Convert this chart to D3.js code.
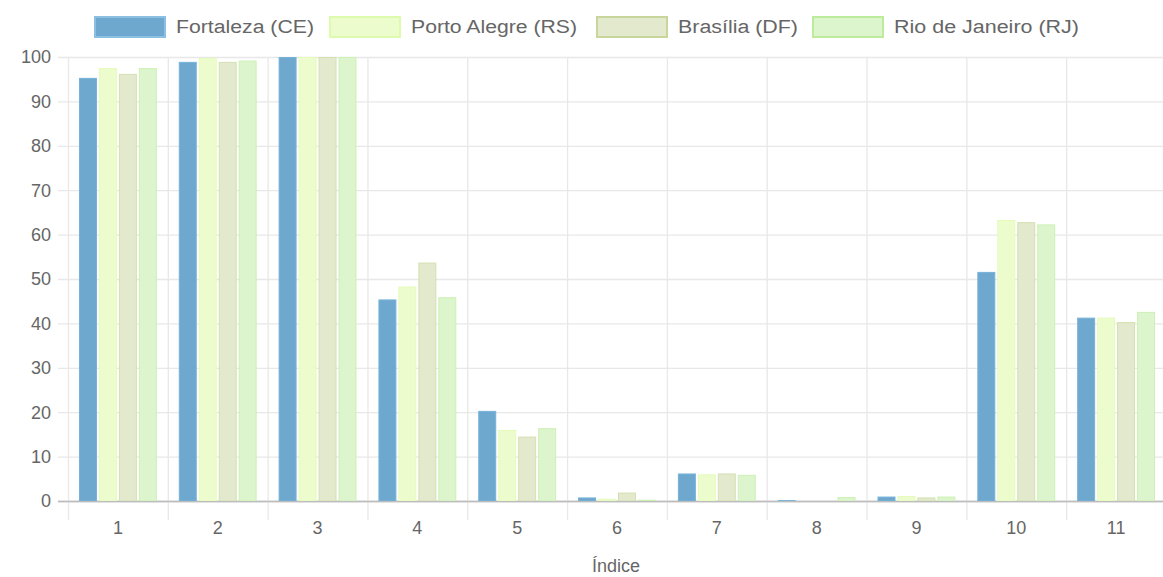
<!DOCTYPE html>
<html><head><meta charset="utf-8">
<script src="https://cdn.jsdelivr.net/npm/d3@7"></script>
<style>body{margin:0;background:#fff;}svg{display:block;font-family:"Liberation Sans",Arial,sans-serif;}</style>
</head><body>
<svg id="c" width="1163" height="577"></svg>
<script>
const categories = ["1","2","3","4","5","6","7","8","9","10","11"];
const seriesNames = ["Fortaleza (CE)","Porto Alegre (RS)","Brasília (DF)","Rio de Janeiro (RJ)"];
const fortaleza   = [95.3, 98.9, 100, 45.4, 20.3, 0.8, 6.2, 0.2, 1.0, 51.6, 41.3];
const portoAlegre = [97.5, 99.8, 100, 48.3, 16.0, 0.5, 6.0, 0.0, 1.1, 63.3, 41.3];
const brasilia    = [96.2, 98.9, 100, 53.7, 14.5, 1.9, 6.2, 0.1, 0.8, 62.8, 40.3];
const rioJaneiro  = [97.5, 99.2, 100, 45.9, 16.4, 0.3, 5.9, 0.9, 1.0, 62.3, 42.6];
const yTicks = [0,10,20,30,40,50,60,70,80,90,100];
const xTitle = "Índice";

const series = [fortaleza, portoAlegre, brasilia, rioJaneiro];
const fills   = ["#6ea8ce", "#edfccd", "#e3e9cc", "#dcf5cc"];
const strokes = ["#76b2da", "#e4fbbb", "#d3e0b0", "#cdf0b6"];
const legStrokes = ["#8cc0e2", "#ddfbad", "#c8d69c", "#bdeb9c"];

const svg = d3.select("#c");
const L = 68, R = 1166, T = 57, B = 501;

const x = d3.scaleBand().domain(categories).range([L, R]).paddingInner(0).paddingOuter(0);
const y = d3.scaleLinear().domain([0, 100]).range([B, T]);
const xs = d3.scaleBand().domain(d3.range(series.length)).range([0, x.bandwidth()*0.8]).paddingInner(0.1).paddingOuter(0.05);

// horizontal grid
svg.append("g").selectAll("line").data(yTicks).join("line")
  .attr("x1", L - 10).attr("x2", R).attr("y1", d => y(d)+0.5).attr("y2", d => y(d)+0.5)
  .attr("stroke", d => d === 0 ? "#c4c4c4" : "#e8e8e8").attr("stroke-width", 1.3);

// vertical grid (boundaries)
const bounds = categories.map(c => x(c)).concat([R]);
svg.append("g").selectAll("line").data(bounds).join("line")
  .attr("x1", d => d+0.5).attr("x2", d => d+0.5).attr("y1", T).attr("y2", B + 19)
  .attr("stroke", "#e8e8e8").attr("stroke-width", 1.3);
svg.append("line").attr("x1", L-10).attr("x2", R).attr("y1", B+0.5).attr("y2", B+0.5)
  .attr("stroke", "#bdbdbd").attr("stroke-width", 1.4);

// bars
series.forEach((vals, si) => {
  svg.append("g").selectAll("rect").data(vals).join("rect")
    .attr("x", (d,i) => x(categories[i]) + x.bandwidth()*0.1 + xs(si) + 0.5)
    .attr("width", xs.bandwidth() - 1)
    .attr("y", d => y(d) + 0.5)
    .attr("height", d => Math.max(0, B - y(d) - 0.5))
    .attr("fill", fills[si]).attr("stroke", strokes[si]).attr("stroke-width", 1);
});
svg.append("line").attr("x1", L).attr("x2", R).attr("y1", B+0.5).attr("y2", B+0.5)
  .attr("stroke", "#bdbdbd").attr("stroke-width", 1.2);

// y labels
svg.append("g").selectAll("text").data(yTicks).join("text")
  .attr("x", 51).attr("y", d => y(d)).attr("dy", "0.35em")
  .attr("text-anchor", "end").attr("font-size", 18).attr("fill", "#666").text(d => d);

// x labels
svg.append("g").selectAll("text").data(categories).join("text")
  .attr("x", d => x(d) + x.bandwidth()/2).attr("y", 528).attr("dy", "0.35em")
  .attr("text-anchor", "middle").attr("font-size", 18).attr("fill", "#666").text(d => d);

// x title
svg.append("text").attr("x", (L + R)/2 - 1).attr("y", 566).attr("dy", "0.35em")
  .attr("text-anchor", "middle").attr("font-size", 18).attr("fill", "#666").text(xTitle);

// legend
const legBoxX = [94, 329, 596, 812];
const legTextW = [138, 166, 120, 185];
const leg = svg.append("g");
seriesNames.forEach((n, i) => {
  leg.append("rect").attr("x", legBoxX[i]+1).attr("y", 17).attr("width", 70).attr("height", 20)
    .attr("fill", fills[i]).attr("stroke", legStrokes[i]).attr("stroke-width", 2);
  leg.append("text").attr("x", legBoxX[i] + 82).attr("y", 27).attr("dy", "0.35em")
    .attr("font-size", 18).attr("fill", "#666").attr("textLength", legTextW[i])
    .attr("lengthAdjust", "spacingAndGlyphs").text(n);
});
</script>
</body></html>
